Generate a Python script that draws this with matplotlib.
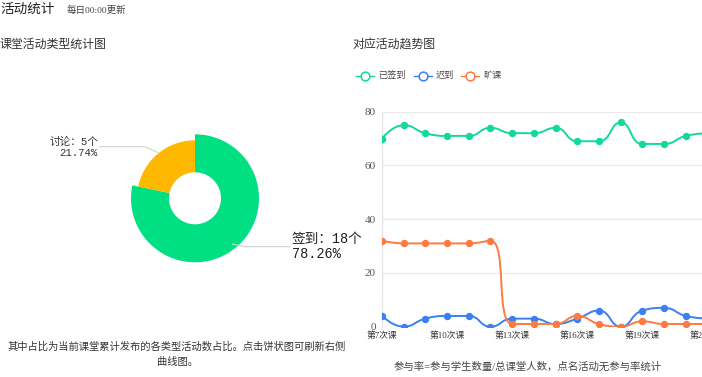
import math
import numpy as np
import matplotlib
matplotlib.use('Agg')
import matplotlib.pyplot as plt
from matplotlib.path import Path
from matplotlib.patches import PathPatch
from matplotlib.lines import Line2D

plt.rcParams['font.family'] = ['Liberation Serif', 'Noto Sans CJK SC']
MONO = ['Liberation Mono', 'Noto Sans CJK SC']

# ---------------- data ----------------
lessons = ['第7次课', '第8次课', '第9次课', '第10次课', '第11次课', '第12次课',
           '第13次课', '第14次课', '第15次课', '第16次课', '第17次课', '第18次课',
           '第19次课', '第20次课', '第21次课', '第22次课']
signed = [70, 75, 72, 71, 71, 74, 72, 72, 74, 69, 69, 76, 68, 68, 71, 72]
late = [4, 0, 3, 4, 4, 0, 3, 3, 1, 3, 6, 0, 6, 7, 4, 3]
absent = [32, 31, 31, 31, 31, 32, 1, 1, 1, 4, 1, 0, 2, 1, 1, 1]
series_names = ['已签到', '迟到', '旷课']
series_colors = ['#13d89e', '#3b7ff0', '#ff7a40']

pie_names = ['签到', '讨论']
pie_counts = [18, 5]
pie_colors = ['#00e083', '#ffb800']

W, H = 702, 377
fig = plt.figure(figsize=(W / 100, H / 100), dpi=100)
fig.patch.set_facecolor('white')


def fx(x):
    return x / W


def fy(y):
    return 1 - y / H


# ---------------- texts ----------------
fig.text(fx(0), fy(9.5), '活动统计', fontsize=9.8, color='#222', va='center', ha='left')
fig.text(fx(67), fy(10.7), '每日00:00更新', fontsize=6.8, color='#444', va='center', ha='left')
fig.text(fx(0), fy(44.5), '课堂活动类型统计图', fontsize=8.6, color='#333', va='center', ha='left')
fig.text(fx(352), fy(44.5), '对应活动趋势图', fontsize=8.6, color='#333', va='center', ha='left')
fig.text(fx(177), fy(346.7), '其中占比为当前课堂累计发布的各类型活动数占比。点击饼状图可刷新右侧',
         fontsize=7.4, color='#333', va='center', ha='center')
fig.text(fx(177), fy(362.3), '曲线图。', fontsize=7.4, color='#333', va='center', ha='center')
fig.text(fx(528), fy(366.5), '参与率=参与学生数量/总课堂人数，点名活动无参与率统计',
         fontsize=7.5, color='#444', va='center', ha='center')

# ---------------- legend (manual) ----------------
leg_x = [356, 414, 461]
for name, col, x0 in zip(series_names, series_colors, leg_x):
    fig.add_artist(Line2D([fx(x0), fx(x0 + 18)], [fy(75.5), fy(75.5)], color=col, lw=1.0,
                          transform=fig.transFigure))
    fig.add_artist(Line2D([fx(x0 + 9)], [fy(75.5)], marker='o', ms=6.3, mfc='white', mec=col,
                          mew=1.1, transform=fig.transFigure))
    fig.text(fx(x0 + 22), fy(75.5), name, fontsize=6.6, color='#444', va='center', ha='left')

# ---------------- pie ----------------
cx, cy, half = 195, 198.3, 80
axp = fig.add_axes([fx(cx - half), fy(cy + half), 2 * half / W, 2 * half / H])
r_out, r_in = 58, 26
wedges, _ = axp.pie(pie_counts, radius=r_out, startangle=90, counterclock=False,
                    colors=pie_colors, wedgeprops=dict(width=r_out - r_in, edgecolor='none'))
# emphasised (hovered) slice
wedges[0].set_radius(64)
wedges[0].set_width(64 - r_in)
axp.set_xlim(-half, half)
axp.set_ylim(-half, half)
axp.set_aspect('auto')
axp.axis('off')

total = sum(pie_counts)
start = 90.0
mids = []
for c in pie_counts:
    span = c / total * 360
    mids.append(start - span / 2)
    start -= span

label_y = {0: -48.4, 1: 51.6}
label_end = {0: 95, 1: -95}
for i, (name, c) in enumerate(zip(pie_names, pie_counts)):
    a = math.radians(mids[i])
    sx0, sy0 = (r_out + 1) * math.cos(a), (r_out + 1) * math.sin(a)
    sgn = 1 if math.cos(a) > 0 else -1
    bx = sx0 + sgn * 13
    by = label_y[i]
    axp.plot([sx0, bx, label_end[i]], [sy0, by, by], color='#d0d0d0', lw=0.8, clip_on=False)
    pct = f'{c / total * 100:.2f}%'
    if sgn > 0:
        axp.text(label_end[i] + 2, by + 8.2, f'{name}：{c}个', fontsize=9.8, color='#222',
                 ha='left', va='center', family=MONO)
        axp.text(label_end[i] + 2, by - 7.5, pct, fontsize=9.8, color='#222',
                 ha='left', va='center', family=MONO)
    else:
        axp.text(label_end[i] - 2, by + 5, f'{name}：{c}个', fontsize=7.7, color='#333',
                 ha='right', va='center', family=MONO)
        axp.text(label_end[i] - 2, by - 6, pct, fontsize=7.7, color='#333',
                 ha='right', va='center', family=MONO)

# ---------------- line chart ----------------
step = 21.7
x_left, y_zero, y_top = 382, 326.7, 111.7
n_show = 15.5
axl = fig.add_axes([fx(x_left), fy(y_zero), n_show * step / W, (y_zero - y_top) / H])
axl.set_xlim(0, n_show)
axl.set_ylim(0, 80)
px_per_unit = (y_zero - y_top) / 80


def echarts_smooth(xs, ys, sx, sy, smooth=0.5):
    P = [(x * sx, y * sy) for x, y in zip(xs, ys)]
    n = len(P)
    verts, codes = [], []
    cpx0 = cpy0 = 0
    for k, (x, y) in enumerate(P):
        if k == 0:
            verts.append((x, y))
            codes.append(Path.MOVETO)
            cpx0, cpy0 = x, y
            continue
        px_, py_ = P[k - 1]
        if k == n - 1:
            cpx1, cpy1 = x, y
            ncx, ncy = x, y
        else:
            nx, ny = P[k + 1]
            vx, vy = nx - px_, ny - py_
            lp = math.hypot(x - px_, y - py_)
            ln = math.hypot(nx - x, ny - y)
            r = ln / (ln + lp)
            ncx = x + vx * smooth * r
            ncy = y + vy * smooth * r
            ncx = max(min(ncx, max(nx, x)), min(nx, x))
            ncy = max(min(ncy, max(ny, y)), min(ny, y))
            vx, vy = ncx - x, ncy - y
            cpx1 = x - vx * lp / ln
            cpy1 = y - vy * lp / ln
            cpx1 = max(min(cpx1, max(px_, x)), min(px_, x))
            cpy1 = max(min(cpy1, max(py_, y)), min(py_, y))
            vx, vy = x - cpx1, y - cpy1
            ncx = x + vx * ln / lp
            ncy = y + vy * ln / lp
        verts += [(cpx0, cpy0), (cpx1, cpy1), (x, y)]
        codes += [Path.CURVE4] * 3
        cpx0, cpy0 = ncx, ncy
    verts = [(a / sx, b / sy) for a, b in verts]
    return Path(verts, codes)


xs = np.arange(len(lessons))
for vals, col, z in zip([signed, late, absent], series_colors, [3, 4, 5]):
    path = echarts_smooth(xs, vals, step, px_per_unit)
    axl.add_patch(PathPatch(path, fill=False, edgecolor=col, lw=1.4, zorder=z, capstyle='round'))
    axl.plot(xs, vals, 'o', ms=4.3, color=col, mec=col, zorder=z + 0.5)

axl.set_yticks([0, 20, 40, 60, 80])
axl.set_xticks(xs[::3])
axl.set_xticklabels(lessons[::3])
axl.tick_params(axis='y', length=0, pad=4.5, labelsize=8, labelcolor='#555')
axl.tick_params(axis='x', length=0, pad=3.5, labelsize=6.3, labelcolor='#333')
axl.yaxis.grid(True, color='#ebebeb', lw=1.0)
axl.set_axisbelow(True)
for s in ['top', 'right', 'bottom']:
    axl.spines[s].set_visible(False)
axl.spines['left'].set_color('#e6e6e6')
axl.spines['left'].set_linewidth(1.0)
axl.patch.set_alpha(0)

fig.savefig('out.png', dpi=100, facecolor='white')
